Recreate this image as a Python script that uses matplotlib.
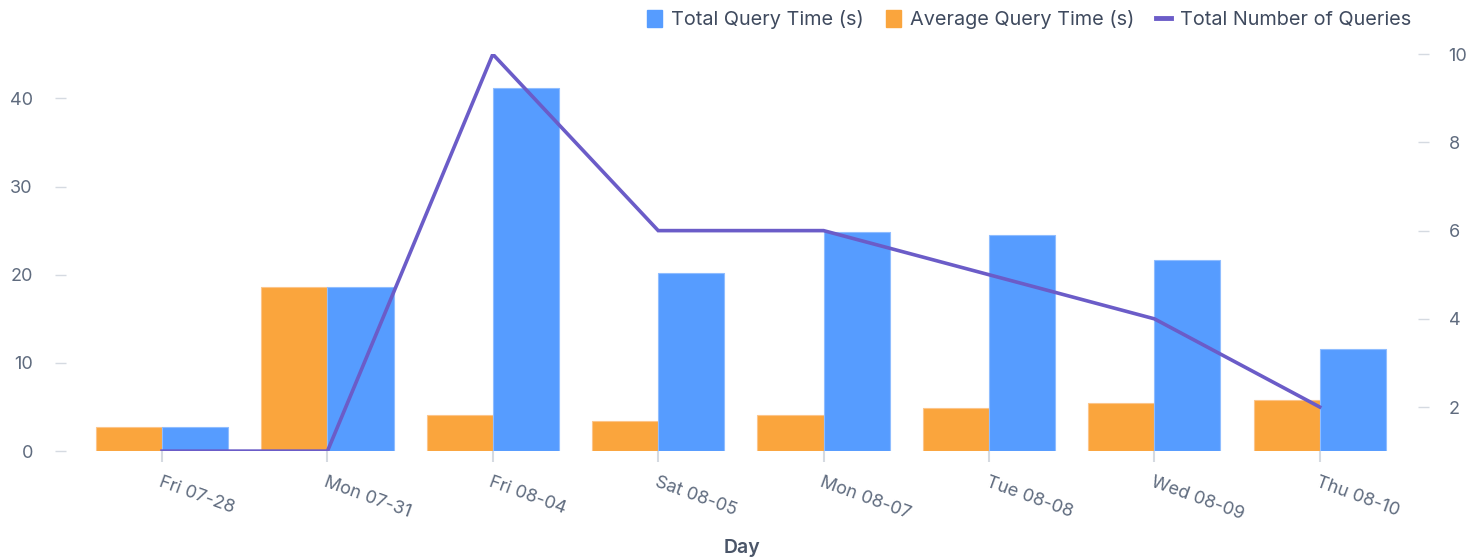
import matplotlib
matplotlib.use("Agg")
import matplotlib.pyplot as plt
import numpy as np
from matplotlib.patches import Patch
from matplotlib.lines import Line2D

days = ["Fri 07-28", "Mon 07-31", "Fri 08-04", "Sat 08-05", "Mon 08-07",
        "Tue 08-08", "Wed 08-09", "Thu 08-10"]
total_time = [2.7, 18.6, 41.2, 20.2, 24.9, 24.5, 21.7, 11.6]
avg_time = [2.7, 18.6, 4.1, 3.4, 4.15, 4.9, 5.4, 5.8]
num_queries = [1, 1, 10, 6, 6, 5, 4, 2]

BLUE = "#569CFF"
ORANGE = "#FAA53D"
PURPLE = "#6B5CC8"
TXT = "#5F6B7E"
TICK = "#D5DAE1"

plt.rcParams['font.family'] = ['Inter', 'DejaVu Sans']

fig = plt.figure(figsize=(14.7, 5.59), dpi=100)
ax = fig.add_axes([0.045, 0.193, 0.9196, 0.71])
ax2 = ax.twinx()

x = np.arange(len(days))
w = 0.4
ax.bar(x - w/2, avg_time, width=w, color=ORANGE, edgecolor="#FCC58A", linewidth=0.8)
ax.bar(x + w/2, total_time, width=w, color=BLUE, edgecolor="#8FBDFF", linewidth=0.8)
ax2.plot(x, num_queries, color=PURPLE, linewidth=2.6, solid_joinstyle='miter')

ax.set_xlim(-0.58, 7.594)
ax.set_ylim(0, 45)
ax2.set_ylim(1, 10)
ax.set_yticks([0, 10, 20, 30, 40])
ax2.set_yticks([2, 4, 6, 8, 10])
ax.set_xticks(x)
ax.set_xticklabels(days, rotation=-20, ha='left', va='top', rotation_mode='anchor')

for a in (ax, ax2):
    for s in a.spines.values():
        s.set_visible(False)
ax.tick_params(axis='y', length=8, width=1, color=TICK, labelcolor=TXT, labelsize=13, pad=16)
ax2.tick_params(axis='y', length=8, width=1, color=TICK, labelcolor=TXT, labelsize=13, pad=14)
ax.tick_params(axis='x', length=8, width=1.5, color=TICK, labelcolor=TXT, labelsize=13, pad=8)

ax.set_xlabel("Day", fontsize=14, color="#4A5568", fontweight='semibold', labelpad=12)

handles = [Patch(facecolor=BLUE, edgecolor=BLUE),
           Patch(facecolor=ORANGE, edgecolor=ORANGE),
           Line2D([0], [0], color=PURPLE, linewidth=3.5)]
labels = ["Total Query Time (s)", "Average Query Time (s)", "Total Number of Queries"]
leg = fig.legend(handles, labels, loc='upper right', bbox_to_anchor=(0.972, 1.014),
                 ncol=3, frameon=False, fontsize=14.3, handlelength=0.75, handleheight=0.9,
                 handletextpad=0.45, columnspacing=1.1)
for t in leg.get_texts():
    t.set_color("#3F4A5E")

fig.savefig("out.png", dpi=100)
